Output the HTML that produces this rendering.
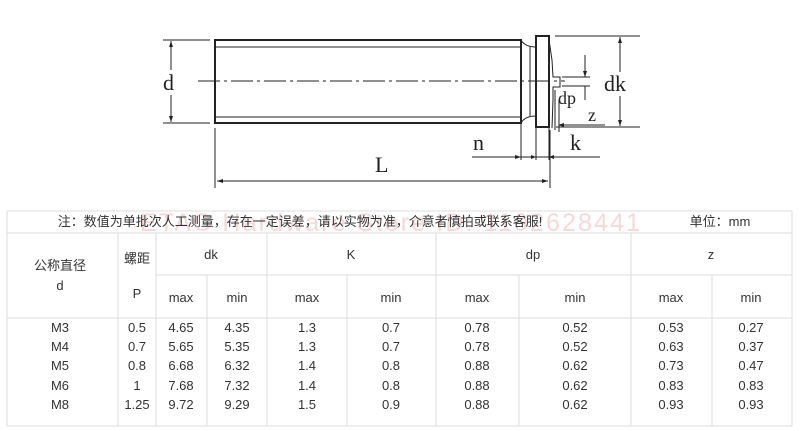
<!DOCTYPE html>
<html><head><meta charset="utf-8"><style>
body{margin:0;width:800px;height:431px;background:#fff;overflow:hidden}
svg{position:absolute;left:0;top:0}
</style></head><body>
<svg width="800" height="431" xmlns="http://www.w3.org/2000/svg">
<g stroke="#222" fill="none" stroke-width="1">
<rect x="215" y="40" width="306" height="83" stroke-width="2"/>
<line x1="216" y1="47" x2="520" y2="47"/>
<line x1="216" y1="117" x2="520" y2="117"/>
<path d="M521 40 Q525 47 536 47 M521 123 Q525 116 536 116"/>
<line x1="530" y1="47" x2="530" y2="116"/>
<rect x="536" y="36" width="13" height="91" stroke-width="2"/>
<path d="M549 40 L552 60 L553 77 L560 77 L560 87 L553 87 L553 100 L552 128"/>
<line x1="555" y1="90" x2="555" y2="130"/>
<line x1="198" y1="81" x2="565" y2="81" stroke-dasharray="22,4,3,4"/>
<line x1="163" y1="40" x2="210" y2="40"/>
<line x1="163" y1="123" x2="210" y2="123"/>
<line x1="171" y1="41" x2="171" y2="70"/>
<line x1="171" y1="95" x2="171" y2="122"/>
<line x1="555" y1="36" x2="640" y2="36"/>
<line x1="556" y1="127" x2="640" y2="127"/>
<line x1="620" y1="37" x2="620" y2="72"/>
<line x1="620" y1="96" x2="620" y2="126"/>
<line x1="562" y1="77" x2="590" y2="77"/>
<line x1="562" y1="86" x2="590" y2="86"/>
<line x1="585" y1="55" x2="585" y2="77"/>
<line x1="585" y1="86" x2="585" y2="100"/>
<line x1="560" y1="125" x2="605" y2="125"/>
<line x1="559" y1="100" x2="559" y2="132"/>
<line x1="521" y1="124" x2="521" y2="160"/>
<line x1="536" y1="128" x2="536" y2="160"/>
<line x1="549" y1="128" x2="549" y2="160"/>
<line x1="472" y1="157" x2="600" y2="157"/>
<line x1="215" y1="128" x2="215" y2="188"/>
<line x1="550" y1="130" x2="550" y2="188"/>
<line x1="217" y1="181" x2="548" y2="181"/>
</g>
<g fill="#222">
<path d="M171 41 l-2 6 h4z M171 122 l-2 -6 h4z M620 37 l-2 6 h4z M620 126 l-2 -6 h4z M585 77 l-2 -6 h4z M217 181 l6 -2 v4z M548 181 l-6 -2 v4z M521 157 l-6 -2 v4z M536 157 l-5 -2 v4z M549 157 l5 -2 v4z M558 125 l6 -2 v4z"/>
</g>
<g font-family="Liberation Serif, serif" fill="#222">
<text x="163" y="90" font-size="22">d</text>
<text x="604" y="91" font-size="22">dk</text>
<text x="558" y="104" font-size="18">dp</text>
<text x="588" y="121" font-size="18">z</text>
<text x="473" y="150" font-size="22">n</text>
<text x="570" y="150" font-size="22">k</text>
<text x="375" y="172" font-size="22">L</text>
</g>
<g stroke="#ddd" stroke-width="1">
<line x1="7" y1="211" x2="792" y2="211"/>
<line x1="7" y1="233" x2="792" y2="233"/>
<line x1="156" y1="275" x2="792" y2="275"/>
<line x1="7" y1="318" x2="792" y2="318"/>
<line x1="7" y1="426" x2="792" y2="426"/>
<line x1="7" y1="211" x2="7" y2="426"/>
<line x1="792" y1="211" x2="792" y2="426"/>
<line x1="118" y1="233" x2="118" y2="426"/>
<line x1="156" y1="233" x2="156" y2="426"/>
<line x1="207" y1="275" x2="207" y2="426"/>
<line x1="267" y1="233" x2="267" y2="426"/>
<line x1="347" y1="275" x2="347" y2="426"/>
<line x1="436" y1="233" x2="436" y2="426"/>
<line x1="519" y1="275" x2="519" y2="426"/>
<line x1="631" y1="233" x2="631" y2="426"/>
<line x1="712" y1="275" x2="712" y2="426"/>
</g>
<text x="140" y="231" font-family="Liberation Sans, sans-serif" font-size="25" fill="#f7d8d8" textLength="500">ETAC Hardware Store ID: 1102628441</text>
<g font-family="Liberation Sans, 'Noto Sans CJK SC', sans-serif" font-size="13" fill="#333" text-anchor="middle">
<text x="300" y="226">注：数值为单批次人工测量，存在一定误差，请以实物为准，介意者慎拍或联系客服!</text>
<text x="720" y="226">单位：mm</text>
<text x="60" y="270">公称直径</text>
<text x="60" y="290">d</text>
<text x="137" y="263">螺距</text>
<text x="137" y="298">P</text>
<text x="211" y="259">dk</text>
<text x="351" y="259">K</text>
<text x="533" y="259">dp</text>
<text x="711" y="259">z</text>
<text x="181" y="302">max</text><text x="237" y="302">min</text>
<text x="307" y="302">max</text><text x="391" y="302">min</text>
<text x="477" y="302">max</text><text x="575" y="302">min</text>
<text x="671" y="302">max</text><text x="751" y="302">min</text>
</g>
<g font-family="Liberation Sans, sans-serif" font-size="13" fill="#333" text-anchor="middle">
<g transform="translate(0,332)"><text x="60">M3</text><text x="137">0.5</text><text x="181">4.65</text><text x="237">4.35</text><text x="307">1.3</text><text x="391">0.7</text><text x="477">0.78</text><text x="575">0.52</text><text x="671">0.53</text><text x="751">0.27</text></g>
<g transform="translate(0,351)"><text x="60">M4</text><text x="137">0.7</text><text x="181">5.65</text><text x="237">5.35</text><text x="307">1.3</text><text x="391">0.7</text><text x="477">0.78</text><text x="575">0.52</text><text x="671">0.63</text><text x="751">0.37</text></g>
<g transform="translate(0,370)"><text x="60">M5</text><text x="137">0.8</text><text x="181">6.68</text><text x="237">6.32</text><text x="307">1.4</text><text x="391">0.8</text><text x="477">0.88</text><text x="575">0.62</text><text x="671">0.73</text><text x="751">0.47</text></g>
<g transform="translate(0,390)"><text x="60">M6</text><text x="137">1</text><text x="181">7.68</text><text x="237">7.32</text><text x="307">1.4</text><text x="391">0.8</text><text x="477">0.88</text><text x="575">0.62</text><text x="671">0.83</text><text x="751">0.83</text></g>
<g transform="translate(0,409)"><text x="60">M8</text><text x="137">1.25</text><text x="181">9.72</text><text x="237">9.29</text><text x="307">1.5</text><text x="391">0.9</text><text x="477">0.88</text><text x="575">0.62</text><text x="671">0.93</text><text x="751">0.93</text></g>
</g>
</svg>
</body></html>
